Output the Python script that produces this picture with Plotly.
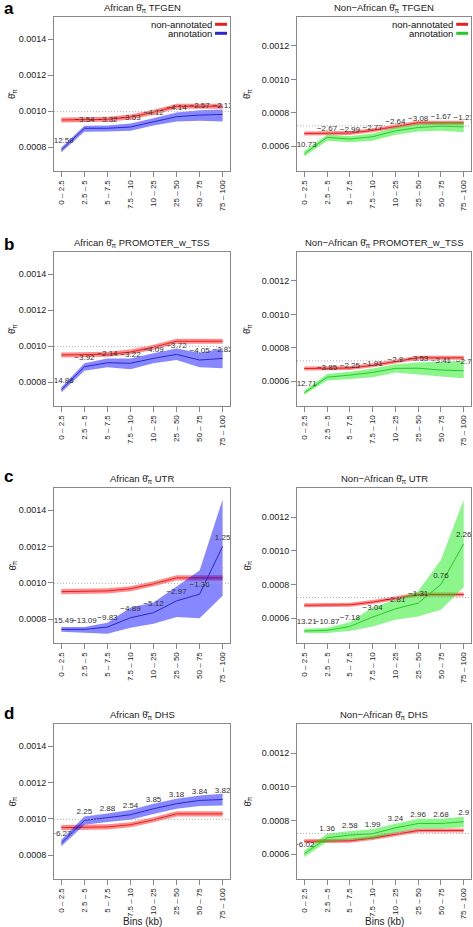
import plotly.graph_objects as go

bins = ["0 – 2.5", "2.5 – 5", "5 – 7.5", "7.5 – 10", "10 – 25", "25 – 50", "50 – 75", "75 – 100"]

# genome-wide reference (dotted line)
af_ref = 0.000997
naf_ref = 0.000722

# non-annotated background (red)
af_bg = [0.000951, 0.000951, 0.000955, 0.000967, 0.000994, 0.001027, 0.001027, 0.001027]
af_bg_lo = [0.000937, 0.000937, 0.000941, 0.000953, 0.000980, 0.001013, 0.001013, 0.001013]
af_bg_hi = [0.000965, 0.000965, 0.000969, 0.000981, 0.001008, 0.001041, 0.001041, 0.001041]
naf_bg = [0.000676, 0.000677, 0.000679, 0.000695, 0.000719, 0.000740, 0.000740, 0.000740]
naf_bg_lo = [0.000664, 0.000665, 0.000667, 0.000683, 0.000707, 0.000728, 0.000728, 0.000728]
naf_bg_hi = [0.000688, 0.000689, 0.000691, 0.000707, 0.000731, 0.000752, 0.000752, 0.000752]

# a: TFGEN
tfgen_af = [0.000785, 0.000905, 0.000905, 0.000912, 0.000941, 0.000969, 0.000978, 0.000982]
tfgen_af_lo = [0.000772, 0.000886, 0.000887, 0.000891, 0.000920, 0.000942, 0.000946, 0.000942]
tfgen_af_hi = [0.000798, 0.000919, 0.000920, 0.000931, 0.000961, 0.000993, 0.001005, 0.001009]
tfgen_af_t = ["−12.59", "−3.54", "−3.32", "−3.53", "−4.12", "−4.14", "−2.57", "−2.13"]
tfgen_naf = [0.000555, 0.000653, 0.000643, 0.000657, 0.000692, 0.000712, 0.000720, 0.000716]
tfgen_naf_lo = [0.000539, 0.000633, 0.000624, 0.000633, 0.000669, 0.000688, 0.000692, 0.000684]
tfgen_naf_hi = [0.000571, 0.000669, 0.000661, 0.000677, 0.000712, 0.000735, 0.000743, 0.000743]
tfgen_naf_t = ["−10.73", "−2.67", "−2.99", "−2.77", "−2.64", "−3.08", "−1.67", "−1.21"]

# b: PROMOTER_w_TSS
prom_af = [0.000758, 0.000886, 0.000908, 0.000905, 0.000932, 0.000954, 0.000923, 0.000932]
prom_af_lo = [0.000743, 0.000864, 0.000883, 0.000872, 0.000905, 0.000923, 0.000883, 0.000877]
prom_af_hi = [0.000772, 0.000905, 0.000932, 0.000932, 0.000960, 0.000987, 0.000963, 0.000987]
prom_af_t = ["−14.88", "−3.92", "−2.14", "−3.22", "−4.09", "−3.72", "−4.05", "−2.82"]
prom_naf = [0.000531, 0.000624, 0.000637, 0.000653, 0.000677, 0.000678, 0.000667, 0.000663]
prom_naf_lo = [0.000520, 0.000604, 0.000614, 0.000624, 0.000653, 0.000643, 0.000629, 0.000618]
prom_naf_hi = [0.000545, 0.000643, 0.000657, 0.000677, 0.000702, 0.000712, 0.000716, 0.000722]
prom_naf_t = ["−12.71", "−3.85", "−2.25", "−1.91", "−2.8", "−3.53", "−3.41", "−2.7"]

# c: UTR
utr_af = [0.000743, 0.000743, 0.000756, 0.000807, 0.000835, 0.000900, 0.000937, 0.001200]
utr_af_lo = [0.000730, 0.000724, 0.000719, 0.000752, 0.000774, 0.000811, 0.000804, 0.000928]
utr_af_hi = [0.000756, 0.000756, 0.000780, 0.000863, 0.000891, 0.000978, 0.001067, 0.001459]
utr_af_t = ["−15.49", "−13.09", "−9.83", "−4.89", "−5.12", "−2.97", "−1.36", "1.25"]
utr_naf = [0.000523, 0.000527, 0.000550, 0.000606, 0.000655, 0.000689, 0.000800, 0.001042]
utr_naf_lo = [0.000511, 0.000511, 0.000523, 0.000550, 0.000590, 0.000610, 0.000650, 0.000784]
utr_naf_hi = [0.000537, 0.000543, 0.000576, 0.000665, 0.000709, 0.000760, 0.000947, 0.001303]
utr_naf_t = ["−13.21", "−10.87", "−7.18", "−3.04", "−2.81", "−1.31", "0.76", "2.26"]

# d: DHS
dhs_af = [0.000866, 0.000991, 0.001006, 0.001022, 0.001055, 0.001083, 0.001101, 0.001106]
dhs_af_lo = [0.000848, 0.000967, 0.000982, 0.000994, 0.001026, 0.001055, 0.001070, 0.001073]
dhs_af_hi = [0.000884, 0.001013, 0.001029, 0.001048, 0.001083, 0.001110, 0.001128, 0.001138]
dhs_af_t = ["−6.27", "2.25", "2.88", "2.54", "3.85", "3.18", "3.84", "3.82"]
dhs_naf = [0.000602, 0.000697, 0.000713, 0.000721, 0.000756, 0.000782, 0.000782, 0.000792]
dhs_naf_lo = [0.000582, 0.000673, 0.000687, 0.000691, 0.000727, 0.000752, 0.000752, 0.000760]
dhs_naf_hi = [0.000622, 0.000721, 0.000737, 0.000747, 0.000780, 0.000810, 0.000810, 0.000822]
dhs_naf_t = ["−6.02", "1.36", "2.58", "1.99", "3.24", "2.96", "2.68", "2.9"]

af_ticks = [0.0008, 0.0010, 0.0012, 0.0014]
naf_ticks = [0.0006, 0.0008, 0.0010, 0.0012]
af_range = [0.000668, 0.001522]
naf_range = [0.000452, 0.001373]

TH = "θ̂<sub>π</sub>"
FONT = "Liberation Sans, Arial, sans-serif"

RED_BAND, RED_LINE = "rgba(255,0,0,0.45)", "rgb(225,35,35)"
BLUE_BAND, BLUE_LINE = "rgba(0,0,255,0.47)", "rgb(40,40,205)"
GREEN_BAND, GREEN_LINE = "rgba(0,235,0,0.45)", "rgb(40,200,40)"

panels = [
    ("African", "TFGEN", tfgen_af, tfgen_af_lo, tfgen_af_hi, tfgen_af_t),
    ("Non−African", "TFGEN", tfgen_naf, tfgen_naf_lo, tfgen_naf_hi, tfgen_naf_t),
    ("African", "PROMOTER_w_TSS", prom_af, prom_af_lo, prom_af_hi, prom_af_t),
    ("Non−African", "PROMOTER_w_TSS", prom_naf, prom_naf_lo, prom_naf_hi, prom_naf_t),
    ("African", "UTR", utr_af, utr_af_lo, utr_af_hi, utr_af_t),
    ("Non−African", "UTR", utr_naf, utr_naf_lo, utr_naf_hi, utr_naf_t),
    ("African", "DHS", dhs_af, dhs_af_lo, dhs_af_hi, dhs_af_t),
    ("Non−African", "DHS", dhs_naf, dhs_naf_lo, dhs_naf_hi, dhs_naf_t),
]

W, H = 473, 927
xdom = [[54 / W, 230 / W], [297 / W, 471 / W]]
rows_px = [(17, 171), (252, 406), (488, 643), (724, 879)]
ydom = [[1 - b / H, 1 - t / H] for t, b in rows_px]

fig = go.Figure()
layout = dict(width=W, height=H, autosize=False, margin=dict(l=0, r=0, t=0, b=0),
              paper_bgcolor="white", plot_bgcolor="white", showlegend=False,
              font=dict(family=FONT, color="#222"))
annotations = []
shapes = []

for i, (pop, name, vals, lo, hi, labels) in enumerate(panels):
    row, col = divmod(i, 2)
    af = col == 0
    xa = "x" if i == 0 else f"x{i+1}"
    ya = "y" if i == 0 else f"y{i+1}"
    bg, bg_lo, bg_hi = (af_bg, af_bg_lo, af_bg_hi) if af else (naf_bg, naf_bg_lo, naf_bg_hi)
    band, line = (BLUE_BAND, BLUE_LINE) if af else (GREEN_BAND, GREEN_LINE)

    # non-annotated band + line
    fig.add_trace(go.Scatter(x=bins, y=bg_hi, mode="lines", line=dict(width=0),
                             xaxis=xa, yaxis=ya, hoverinfo="skip"))
    fig.add_trace(go.Scatter(x=bins, y=bg_lo, mode="lines", line=dict(width=0),
                             fill="tonexty", fillcolor=RED_BAND, xaxis=xa, yaxis=ya, hoverinfo="skip"))
    fig.add_trace(go.Scatter(x=bins, y=bg, mode="lines", line=dict(color=RED_LINE, width=1),
                             xaxis=xa, yaxis=ya))
    # annotation band + line
    fig.add_trace(go.Scatter(x=bins, y=hi, mode="lines", line=dict(width=0),
                             xaxis=xa, yaxis=ya, hoverinfo="skip"))
    fig.add_trace(go.Scatter(x=bins, y=lo, mode="lines", line=dict(width=0),
                             fill="tonexty", fillcolor=band, xaxis=xa, yaxis=ya, hoverinfo="skip"))
    fig.add_trace(go.Scatter(x=bins, y=vals, mode="lines", line=dict(color=line, width=1),
                             xaxis=xa, yaxis=ya))
    # t-statistic labels
    fig.add_trace(go.Scatter(x=bins, y=vals, mode="markers+text", text=labels,
                             textposition="top center", cliponaxis=True,
                             marker=dict(size=6, color="rgba(0,0,0,0)"),
                             textfont=dict(size=8, color="#333", family=FONT),
                             xaxis=xa, yaxis=ya, hoverinfo="skip"))

    xkey = "xaxis" if i == 0 else f"xaxis{i+1}"
    ykey = "yaxis" if i == 0 else f"yaxis{i+1}"
    layout[xkey] = dict(domain=xdom[col], anchor=ya, type="category",
                        range=[-0.32, 7.32], tickmode="array", tickvals=bins, ticktext=bins,
                        tickangle=-90, ticks="outside", ticklen=5, tickcolor="#888",
                        showline=True, linecolor="#888", linewidth=1, mirror=True,
                        showgrid=False, zeroline=False,
                        tickfont=dict(size=8, family=FONT, color="#222"))
    layout[ykey] = dict(domain=ydom[row], anchor=xa,
                        range=af_range if af else naf_range,
                        tickmode="array", tickvals=af_ticks if af else naf_ticks,
                        tickformat=".4f", ticks="outside", ticklen=5, tickcolor="#888",
                        showline=True, linecolor="#888", linewidth=1, mirror=True,
                        showgrid=False, zeroline=False,
                        tickfont=dict(size=9, family=FONT, color="#222"))

    # reference dotted line
    ref = af_ref if af else naf_ref
    shapes.append(dict(type="line", xref=f"{xa} domain", yref=ya, x0=0, x1=1,
                       y0=ref, y1=ref,
                       line=dict(color="#aaa", width=1, dash="1px,2px"), layer="above"))

    # title
    annotations.append(dict(text=f"{pop} {TH} {name}", xref=f"{xa} domain", yref=f"{ya} domain",
                            x=0.5, y=1, xanchor="center", yanchor="middle", yshift=9,
                            showarrow=False, font=dict(size=9.5, family=FONT, color="#222")))
    # y-axis title
    yt_x = (12 if af else 247) / W
    annotations.append(dict(text=TH, xref="paper", yref=f"{ya} domain", x=yt_x, y=0.5,
                            xanchor="center", yanchor="middle", textangle=-90, showarrow=False,
                            font=dict(size=9.5, family=FONT, color="#222")))
    # x-axis title for bottom row
    if row == 3:
        annotations.append(dict(text="Bins (kb)", xref=f"{xa} domain", yref="paper",
                                x=0.5, y=1 - 921 / H, xanchor="center", yanchor="middle",
                                showarrow=False, font=dict(size=10, family=FONT, color="#222")))
    # legend (top row only)
    if row == 0:
        for k, (lab, col_) in enumerate([("non-annotated", RED_LINE), ("annotation", line)]):
            yy = 1 - (7.3 + 9 * k) / 154
            annotations.append(dict(text=lab, xref=f"{xa} domain", yref=f"{ya} domain",
                                    x=1, y=yy, xanchor="right", yanchor="middle", xshift=-16,
                                    showarrow=False, font=dict(size=9.5, family=FONT, color="#111")))
            shapes.append(dict(type="line", xref=f"{xa} domain", yref=f"{ya} domain",
                               x0=0.915, x1=0.983, y0=yy, y1=yy,
                               line=dict(color=col_, width=3)))

# panel letters
for letter, ypx in zip("abcd", [8.5, 245, 476.5, 713]):
    annotations.append(dict(text=f"<b>{letter}</b>", xref="paper", yref="paper",
                            x=2 / W, y=1 - ypx / H, xanchor="left", yanchor="middle",
                            showarrow=False, font=dict(size=17, family=FONT, color="black")))

layout["annotations"] = annotations
layout["shapes"] = shapes
fig.update_layout(**layout)
fig.write_html("out.html", config={"displayModeBar": False},
               post_script="document.body.style.margin='0';document.body.style.overflow='hidden';")
